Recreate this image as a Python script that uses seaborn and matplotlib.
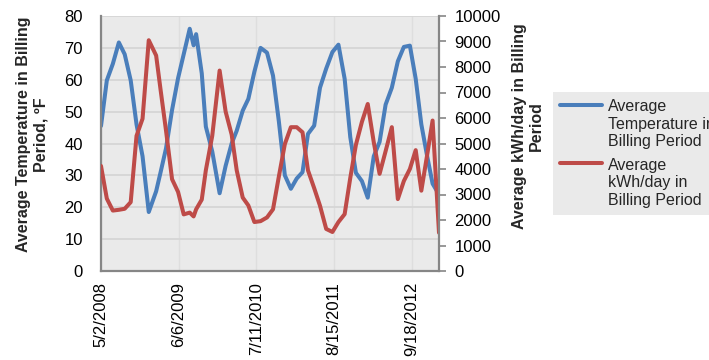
import pandas as pd
import matplotlib
matplotlib.use("Agg")
import matplotlib.pyplot as plt
import seaborn as sns

billing_dates = [
    "2008-05-02", "2008-06-01", "2008-07-02", "2008-08-02", "2008-09-01", "2008-10-02",
    "2008-11-01", "2008-12-02", "2009-01-03", "2009-02-10", "2009-03-05", "2009-04-02",
    "2009-05-03", "2009-06-03", "2009-07-02", "2009-08-02", "2009-08-22", "2009-09-04",
    "2009-10-03", "2009-10-24", "2009-11-26", "2010-01-03", "2010-02-03", "2010-03-06",
    "2010-04-01", "2010-05-02", "2010-05-31", "2010-07-01", "2010-08-02", "2010-09-04",
    "2010-10-05", "2010-11-04", "2010-12-05", "2011-01-05", "2011-02-04", "2011-03-06",
    "2011-04-03", "2011-05-05", "2011-06-04", "2011-07-06", "2011-08-07", "2011-09-07",
    "2011-10-09", "2011-11-07", "2011-12-06", "2012-01-06", "2012-02-05", "2012-03-07",
    "2012-04-06", "2012-05-07", "2012-06-08", "2012-07-09", "2012-08-09", "2012-09-09",
    "2012-10-09", "2012-11-07", "2012-12-07", "2013-01-04", "2013-02-06",
]
avg_temp_f = [
    45.5, 59.8, 65.0, 71.7, 68.0, 59.8,
    46.0, 36.0, 18.5, 25.0, 31.0, 38.5,
    50.5, 60.5, 68.0, 76.0, 70.8, 74.3,
    62.0, 45.3, 37.5, 24.4, 33.0, 40.0,
    44.0, 50.3, 54.0, 62.5, 70.0, 68.5,
    61.3, 47.0, 30.0, 25.8, 29.0, 31.0,
    43.0, 45.6, 57.5, 63.5, 68.7, 71.0,
    60.3, 42.0, 30.8, 28.2, 23.0, 36.0,
    40.5, 52.2, 57.5, 65.8, 70.3, 70.7,
    60.3, 46.0, 36.0, 27.4, 24.0,
]
avg_kwh_day = [
    4120, 2840, 2370, 2400, 2440, 2700,
    5300, 5970, 9050, 8450, 7100, 5500,
    3600, 3100, 2220, 2290, 2140, 2420,
    2800, 3950, 5300, 7860, 6250, 5350,
    3950, 2880, 2570, 1920, 1955, 2100,
    2420, 3700, 4980, 5640, 5640, 5440,
    3950, 3250, 2560, 1650, 1530, 1920,
    2230, 3650, 4950, 5850, 6550, 5050,
    3810, 4700, 5640, 2820, 3530, 4000,
    4740, 3150, 4550, 5900, 1500,
]
tick_dates = ["2008-05-02", "2009-06-06", "2010-07-11", "2011-08-15", "2012-09-18"]
tick_labels = ["5/2/2008", "6/6/2009", "7/11/2010", "8/15/2011", "9/18/2012"]
temp_ticks = [0, 10, 20, 30, 40, 50, 60, 70, 80]
kwh_ticks = [0, 1000, 2000, 3000, 4000, 5000, 6000, 7000, 8000, 9000, 10000]
series_names = ["Average\nTemperature in\nBilling Period", "Average\nkWh/day in\nBilling Period"]
left_label = "Average Temperature in Billing\nPeriod, \u00baF"
right_label = "Average kWh/day in Billing\nPeriod"

sns.set_style("white")
plt.rcParams["font.family"] = ["Liberation Sans", "DejaVu Sans"]

BLUE = "#4A7EBB"
RED = "#BE4B48"
SPINE = "#868686"

df = pd.DataFrame({"date": pd.to_datetime(billing_dates),
                   "temp": avg_temp_f, "kwh": avg_kwh_day})

fig = plt.figure(figsize=(7.09, 3.6), dpi=100)
ax = fig.add_axes([101 / 709, 1 - 271 / 360, 338 / 709, 255 / 360])
ax.set_facecolor("#EAEAEA")
ax2 = ax.twinx()

sns.lineplot(data=df, x="date", y="temp", ax=ax, color=BLUE, lw=2.9, legend=False)
sns.lineplot(data=df, x="date", y="kwh", ax=ax2, color=RED, lw=2.9, legend=False)

ax.set_xlim(df["date"].iloc[0], df["date"].iloc[-1])
ax.set_ylim(temp_ticks[0], temp_ticks[-1])
ax2.set_ylim(kwh_ticks[0], kwh_ticks[-1])
ax.set_yticks(temp_ticks)
ax2.set_yticks(kwh_ticks)
ax.set_xticks(pd.to_datetime(tick_dates))
ax.set_xticklabels(tick_labels, rotation=90)

ax.set_axisbelow(True)
ax.grid(True, axis="y", color="#D6D6D6", lw=1.3)
ax.grid(True, axis="x", color="#DEDEDE", lw=1.0)
ax2.grid(False)

for s in ["top", "right"]:
    ax.spines[s].set_visible(False)
for s in ["left", "bottom"]:
    ax.spines[s].set_color(SPINE)
    ax.spines[s].set_linewidth(1.6)
for s in ["top", "left", "bottom"]:
    ax2.spines[s].set_visible(False)
ax2.spines["right"].set_visible(True)
ax2.spines["right"].set_color(SPINE)
ax2.spines["right"].set_linewidth(1.6)

ax.tick_params(axis="y", length=0, pad=13, labelsize=12, labelcolor="black")
ax.tick_params(axis="x", length=0, pad=8, labelsize=12, labelcolor="black")
ax2.tick_params(axis="y", length=5, width=1.2, color=SPINE, pad=6, labelsize=12,
                labelcolor="black", right=True)

ax.set_xlabel("")
ax.set_ylabel(left_label, fontsize=11.5, fontweight="bold", multialignment="center")
ax2.set_ylabel(right_label, fontsize=11.5, fontweight="bold", multialignment="center")
ax.yaxis.set_label_coords(-0.155, 0.535)
ax2.yaxis.set_label_coords(1.215, 0.57)

l1 = ax.get_lines()[0]
l2 = ax2.get_lines()[0]
leg = fig.legend(handles=[l1, l2], labels=series_names, loc="upper left",
                 bbox_to_anchor=(553 / 709, 1 - 92 / 360), frameon=True, fancybox=False,
                 facecolor="#EAEAEA", edgecolor="none", fontsize=11.5,
                 handlelength=2.6, handletextpad=0.4, labelspacing=0.55,
                 borderpad=0.45, borderaxespad=0)
leg.get_frame().set_alpha(1)
for col in leg._legend_handle_box.get_children():
    for item in col.get_children():
        item.align = "top"

fig.savefig("out.png", dpi=100)
